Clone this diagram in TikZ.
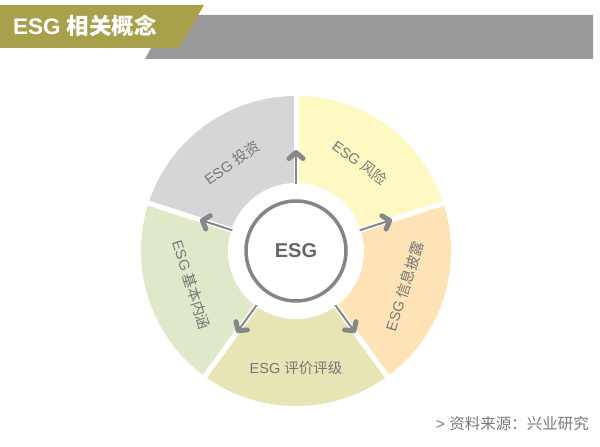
\documentclass[tikz,border=0pt]{standalone}
\usepackage{fontspec}
\setmainfont{Liberation Sans}
\newfontfamily\cjk{Noto Sans CJK SC}
\usetikzlibrary{arrows.meta,calc}
\definecolor{hdrolive}{HTML}{A9A04C}
\definecolor{hdrgray}{HTML}{999999}
\definecolor{segA}{HTML}{D6D6D8}
\definecolor{segB}{HTML}{FEF8C3}
\definecolor{segC}{HTML}{FDE3B6}
\definecolor{segD}{HTML}{E7E5B5}
\definecolor{segE}{HTML}{DFE9C9}
\definecolor{ringgray}{HTML}{858585}
\definecolor{arrgray}{HTML}{878787}
\definecolor{labgray}{HTML}{777777}
\definecolor{srcgray}{HTML}{7A7A7A}
\definecolor{esggray}{HTML}{666666}
\tikzset{
  lab/.style={text=labgray, font=\fontsize{14.5}{17}\selectfont, inner sep=0pt},
  arr/.style={draw=arrgray, line width=2pt, -{Straight Barb[length=6pt,width=14pt,line width=5pt,round]}},
  gap/.style={draw=white, line width=5pt},
}
\begin{document}
\begin{tikzpicture}[x=1pt,y=1pt]
\useasboundingbox[fill=white] (0,0) rectangle (600,447);
% header
\fill[hdrgray] (145,388) -- (169,432) -- (593,432) -- (593,388) -- cycle;
\fill[hdrolive] (0,442) -- (204,442) -- (179,399) -- (0,399) -- cycle;
\node[anchor=base west, text=white, inner sep=0pt, font=\fontsize{22.5}{26}\selectfont\bfseries] (title) at (13,412) {ESG {\cjk\bfseries 相关概念}};
% wheel
\coordinate (C) at (296,196);
\fill[segA] (C) -- ($(C)+(90:155)$) arc[start angle=90,end angle=162,radius=155] -- cycle;
\fill[segB] (C) -- ($(C)+(18:155)$) arc[start angle=18,end angle=90,radius=155] -- cycle;
\fill[segC] (C) -- ($(C)+(-54:155)$) arc[start angle=-54,end angle=18,radius=155] -- cycle;
\fill[segD] (C) -- ($(C)+(-126:155)$) arc[start angle=-126,end angle=-54,radius=155] -- cycle;
\fill[segE] (C) -- ($(C)+(162:155)$) arc[start angle=162,end angle=234,radius=155] -- cycle;
\foreach \a/\n in {90/1,18/2,-54/3,-126/4,162/5}{
  \coordinate (g\n) at ($(C)+(\a:158)$);
  \draw[gap] (C) -- (g\n);
}
\fill[white] (C) circle[radius=68];
\node[circle, draw=ringgray, line width=3.5pt, minimum size=100pt, inner sep=0pt, text=esggray, font=\fontsize{20}{24}\selectfont\bfseries] (esg) at (C) {ESG};
% arrows
\foreach \a/\n in {90/1,18/2,-54/3,-126/4,162/5}{
  \coordinate (s\n) at ($(C)+(\a:67)$);
  \coordinate (e\n) at ($(C)+(\a:101)$);
  \draw[arr] (s\n) -- (e\n);
}
% labels
\node[lab, rotate=36] (l1) at ($(C)+(126:109)$) {ESG {\cjk 投资}};
\node[lab, rotate=-36] (l2) at ($(C)+(54:109)$) {ESG {\cjk 风险}};
\node[lab, rotate=72] (l3) at ($(C)+(-18:114)$) {ESG {\cjk 信息披露}};
\node[lab] (l4) at ($(C)+(-90:117)$) {ESG {\cjk 评价评级}};
\node[lab, rotate=-72] (l5) at ($(C)+(198:110)$) {ESG {\cjk 基本内涵}};
% source
\node[anchor=east, text=srcgray, inner sep=0pt, font=\fontsize{15.5}{18}\selectfont] (src) at (589,23) {> {\cjk 资料来源：兴业研究}};
\end{tikzpicture}
\end{document}
